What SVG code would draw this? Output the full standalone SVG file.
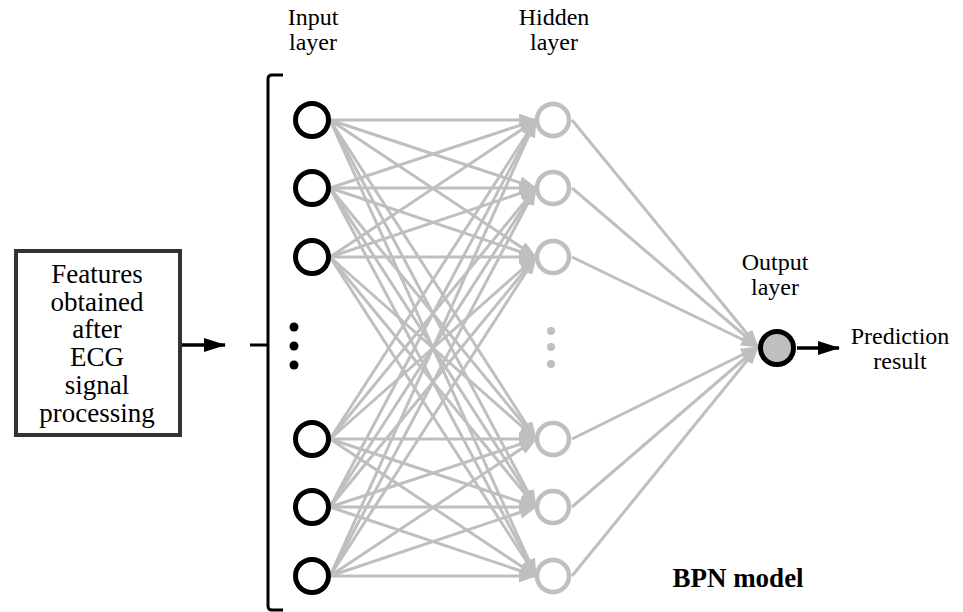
<svg xmlns="http://www.w3.org/2000/svg" width="963" height="612" viewBox="0 0 963 612">
<style>
text{font-family:"Liberation Serif","Times New Roman",serif;font-size:27px;fill:#000;text-anchor:middle}
.l2{font-size:24px}
.c{stroke:#bfbfbf;stroke-width:3;fill:none}
.in{fill:#fff;stroke:#000;stroke-width:5}
.hid{fill:#fff;stroke:#bfbfbf;stroke-width:4.5}
</style>
<defs>
<marker id="ag" markerUnits="userSpaceOnUse" markerWidth="18" markerHeight="13" refX="17" refY="6.5" orient="auto"><path d="M0,0 L18,6.5 L0,13 z" fill="#bfbfbf"/></marker>
<marker id="ab" markerUnits="userSpaceOnUse" markerWidth="22" markerHeight="14" refX="21" refY="7" orient="auto"><path d="M0,0 L22,7 L0,14 z" fill="#000"/></marker>
</defs>
<g id="connectors">
<g class="c" marker-end="url(#ag)">
<path d="M330,120 L536,120"/><path d="M330,120 L536,188"/><path d="M330,120 L536,257"/><path d="M330,120 L536,439"/><path d="M330,120 L536,507"/><path d="M330,120 L536,576"/>
<path d="M330,188 L536,120"/><path d="M330,188 L536,188"/><path d="M330,188 L536,257"/><path d="M330,188 L536,439"/><path d="M330,188 L536,507"/><path d="M330,188 L536,576"/>
<path d="M330,257 L536,120"/><path d="M330,257 L536,188"/><path d="M330,257 L536,257"/><path d="M330,257 L536,439"/><path d="M330,257 L536,507"/><path d="M330,257 L536,576"/>
<path d="M330,439 L536,120"/><path d="M330,439 L536,188"/><path d="M330,439 L536,257"/><path d="M330,439 L536,439"/><path d="M330,439 L536,507"/><path d="M330,439 L536,576"/>
<path d="M330,507 L536,120"/><path d="M330,507 L536,188"/><path d="M330,507 L536,257"/><path d="M330,507 L536,439"/><path d="M330,507 L536,507"/><path d="M330,507 L536,576"/>
<path d="M330,576 L536,120"/><path d="M330,576 L536,188"/><path d="M330,576 L536,257"/><path d="M330,576 L536,439"/><path d="M330,576 L536,507"/><path d="M330,576 L536,576"/>
<path d="M572,120 L758,347"/><path d="M572,188 L758,347"/><path d="M572,257 L758,347"/><path d="M572,439 L758,347"/><path d="M572,507 L758,347"/><path d="M572,576 L758,347"/>
</g>
<path d="M180,345 L225,345" stroke="#000" stroke-width="3.5" marker-end="url(#ab)"/>
<path d="M797,348 L839,348" stroke="#000" stroke-width="3.5" marker-end="url(#ab)"/>
</g>
<g id="features">
<rect x="16" y="251" width="164" height="184" fill="#fff" stroke="#333" stroke-width="4"/>
<text x="97" y="283">Features</text>
<text x="97" y="311">obtained</text>
<text x="97" y="338">after</text>
<text x="97" y="366">ECG</text>
<text x="97" y="394">signal</text>
<text x="97" y="422">processing</text>
</g>
<g id="bracket" fill="none" stroke="#000" stroke-width="3">
<path d="M283,75 L272,75 Q268,75 268,79 L268,606 Q268,610 272,610 L283,610"/>
<path d="M250,345 L268,345"/>
</g>
<g id="input-layer">
<text class="l2" x="313" y="25">Input</text>
<text class="l2" x="313" y="50">layer</text>
<circle class="in" cx="312" cy="120" r="16.5"/>
<circle class="in" cx="312" cy="188" r="16.5"/>
<circle class="in" cx="312" cy="257" r="16.5"/>
<circle class="in" cx="312" cy="439" r="16.5"/>
<circle class="in" cx="312" cy="507" r="16.5"/>
<circle class="in" cx="312" cy="576" r="16.5"/>
<circle cx="294" cy="327" r="4.5"/>
<circle cx="294" cy="346" r="4.5"/>
<circle cx="294" cy="365" r="4.5"/>
</g>
<g id="hidden-layer">
<text class="l2" x="554" y="25">Hidden</text>
<text class="l2" x="554" y="50">layer</text>
<circle class="hid" cx="553" cy="120" r="16"/>
<circle class="hid" cx="553" cy="188" r="16"/>
<circle class="hid" cx="553" cy="257" r="16"/>
<circle class="hid" cx="553" cy="439" r="16"/>
<circle class="hid" cx="553" cy="507" r="16"/>
<circle class="hid" cx="553" cy="576" r="16"/>
<circle cx="551" cy="331" r="4" fill="#bfbfbf"/>
<circle cx="551" cy="347" r="4" fill="#bfbfbf"/>
<circle cx="551" cy="364" r="4" fill="#bfbfbf"/>
</g>
<g id="output-layer">
<text class="l2" x="775" y="270">Output</text>
<text class="l2" x="775" y="295">layer</text>
<circle cx="777" cy="348" r="16.5" fill="#bfbfbf" stroke="#000" stroke-width="5"/>
</g>
<g id="prediction">
<text class="l2" x="900" y="344">Prediction</text>
<text class="l2" x="900" y="369">result</text>
</g>
<g id="label">
<text x="738" y="587" style="font-weight:bold">BPN model</text>
</g>
</svg>
